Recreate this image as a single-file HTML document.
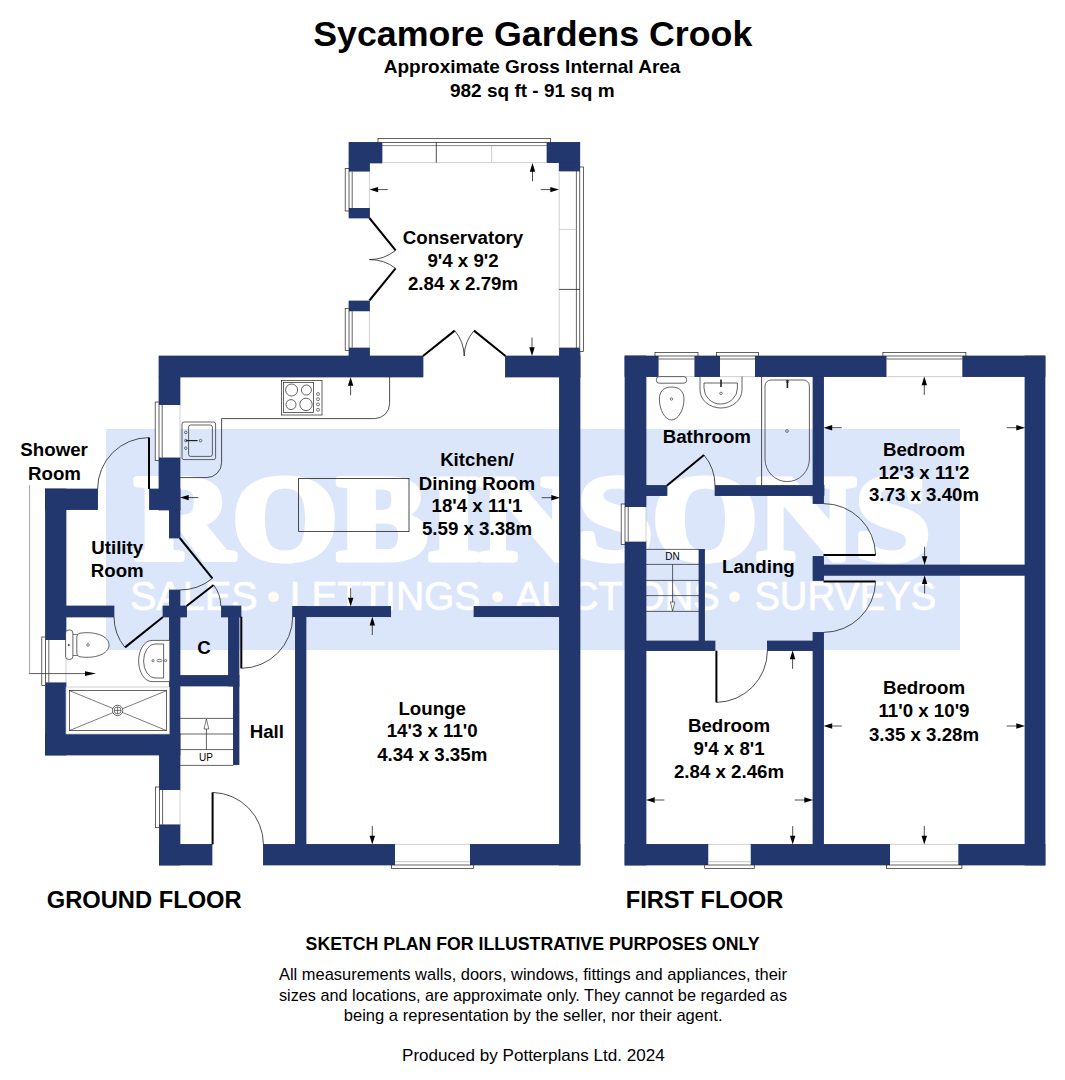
<!DOCTYPE html>
<html lang="en">
<head>
<meta charset="utf-8">
<title>Sycamore Gardens Crook - Floor Plan</title>
<style>
html,body{margin:0;padding:0;background:#fff;}
body{width:1065px;height:1080px;overflow:hidden;font-family:"Liberation Sans",sans-serif;}
svg{display:block;}
</style>
</head>
<body>
<svg width="1065" height="1080" viewBox="0 0 1065 1080" font-family="'Liberation Sans', sans-serif">
<rect width="1065" height="1080" fill="#ffffff"/>
<rect x="106.00" y="429.00" width="854.00" height="221.00" fill="#dce6fb"/>
<g stroke="#ffffff" stroke-width="7" stroke-linejoin="round">
<text x="135.00" y="559.30" font-size="121" font-weight="bold" text-anchor="start" fill="#ffffff" textLength="795.0" lengthAdjust="spacingAndGlyphs" font-family="'Liberation Serif', serif" >ROBINSONS</text>
</g>
<text x="129.90" y="610.30" font-size="41.5" font-weight="normal" text-anchor="start" fill="#ffffff" textLength="127.9" lengthAdjust="spacingAndGlyphs" stroke="#ffffff" stroke-width="0.7">SALES</text>
<text x="289.90" y="610.30" font-size="41.5" font-weight="normal" text-anchor="start" fill="#ffffff" textLength="190.4" lengthAdjust="spacingAndGlyphs" stroke="#ffffff" stroke-width="0.7">LETTINGS</text>
<text x="514.90" y="610.30" font-size="41.5" font-weight="normal" text-anchor="start" fill="#ffffff" textLength="204.9" lengthAdjust="spacingAndGlyphs" stroke="#ffffff" stroke-width="0.7">AUCTIONS</text>
<text x="754.40" y="610.30" font-size="41.5" font-weight="normal" text-anchor="start" fill="#ffffff" textLength="181.9" lengthAdjust="spacingAndGlyphs" stroke="#ffffff" stroke-width="0.7">SURVEYS</text>
<text x="273.50" y="609.50" font-size="38" font-weight="normal" text-anchor="middle" fill="#fffdf2" >•</text>
<text x="497.50" y="609.50" font-size="38" font-weight="normal" text-anchor="middle" fill="#fffdf2" >•</text>
<text x="734.50" y="609.50" font-size="38" font-weight="normal" text-anchor="middle" fill="#fffdf2" >•</text>
<g fill="#23376f" stroke="#1b2a5a" stroke-width="0.7">
<rect x="349.00" y="142.40" width="33.00" height="20.60" />
<rect x="349.00" y="163.00" width="20.40" height="8.60" />
<rect x="349.00" y="208.00" width="20.40" height="10.00" />
<rect x="349.00" y="301.00" width="20.40" height="10.30" />
<rect x="349.00" y="347.60" width="20.40" height="8.90" />
<rect x="547.00" y="142.40" width="32.80" height="20.20" />
<rect x="559.20" y="162.60" width="20.60" height="8.40" />
<rect x="159.00" y="356.00" width="264.00" height="21.00" />
<rect x="505.50" y="356.00" width="74.50" height="21.00" />
<rect x="559.50" y="348.00" width="20.50" height="517.00" />
<rect x="159.00" y="377.00" width="21.00" height="28.00" />
<rect x="159.00" y="457.50" width="21.00" height="52.50" />
<rect x="149.60" y="489.00" width="30.40" height="20.60" />
<rect x="169.40" y="509.60" width="10.60" height="28.40" />
<rect x="45.60" y="489.00" width="52.00" height="20.60" />
<rect x="45.60" y="489.00" width="20.40" height="151.00" />
<rect x="45.60" y="682.40" width="20.40" height="72.60" />
<rect x="66.00" y="606.00" width="48.00" height="11.00" />
<rect x="45.60" y="734.00" width="134.40" height="21.00" />
<rect x="169.40" y="590.00" width="10.60" height="144.00" />
<rect x="163.00" y="606.00" width="23.60" height="11.00" />
<rect x="159.40" y="734.00" width="20.60" height="56.00" />
<rect x="159.40" y="824.40" width="20.60" height="40.60" />
<rect x="159.40" y="844.40" width="52.60" height="20.60" />
<rect x="263.40" y="844.40" width="131.60" height="20.60" />
<rect x="470.00" y="844.40" width="110.00" height="20.60" />
<rect x="221.60" y="606.00" width="19.40" height="11.00" />
<rect x="228.50" y="617.00" width="10.50" height="69.00" />
<rect x="233.40" y="686.00" width="5.60" height="78.60" />
<rect x="180.00" y="675.60" width="59.00" height="10.40" />
<rect x="295.40" y="606.50" width="10.60" height="238.50" />
<rect x="292.70" y="606.50" width="98.00" height="10.20" />
<rect x="474.00" y="606.50" width="86.00" height="10.20" />
<rect x="625.00" y="356.00" width="21.00" height="151.00" />
<rect x="625.00" y="541.60" width="21.00" height="323.40" />
<rect x="625.00" y="356.00" width="33.60" height="20.60" />
<rect x="694.40" y="356.00" width="25.60" height="20.60" />
<rect x="755.00" y="356.00" width="131.50" height="20.60" />
<rect x="962.30" y="356.00" width="82.70" height="20.60" />
<rect x="1025.00" y="356.00" width="20.00" height="509.00" />
<rect x="625.00" y="844.40" width="83.30" height="20.60" />
<rect x="750.70" y="844.40" width="139.30" height="20.60" />
<rect x="958.30" y="844.40" width="86.70" height="20.60" />
<rect x="646.00" y="485.60" width="21.00" height="10.00" />
<rect x="715.00" y="485.60" width="109.00" height="10.00" />
<rect x="813.00" y="376.60" width="10.50" height="127.00" />
<rect x="813.00" y="556.50" width="10.50" height="23.90" />
<rect x="823.00" y="565.00" width="202.00" height="10.20" />
<rect x="813.00" y="632.40" width="10.50" height="212.60" />
<rect x="646.00" y="641.00" width="69.00" height="9.60" />
<rect x="767.40" y="641.00" width="45.60" height="9.60" />
<rect x="699.00" y="549.40" width="5.40" height="91.60" />
</g>
<g fill="#23376f">
<rect x="349.00" y="142.40" width="33.00" height="20.60" />
<rect x="349.00" y="163.00" width="20.40" height="8.60" />
<rect x="349.00" y="208.00" width="20.40" height="10.00" />
<rect x="349.00" y="301.00" width="20.40" height="10.30" />
<rect x="349.00" y="347.60" width="20.40" height="8.90" />
<rect x="547.00" y="142.40" width="32.80" height="20.20" />
<rect x="559.20" y="162.60" width="20.60" height="8.40" />
<rect x="159.00" y="356.00" width="264.00" height="21.00" />
<rect x="505.50" y="356.00" width="74.50" height="21.00" />
<rect x="559.50" y="348.00" width="20.50" height="517.00" />
<rect x="159.00" y="377.00" width="21.00" height="28.00" />
<rect x="159.00" y="457.50" width="21.00" height="52.50" />
<rect x="149.60" y="489.00" width="30.40" height="20.60" />
<rect x="169.40" y="509.60" width="10.60" height="28.40" />
<rect x="45.60" y="489.00" width="52.00" height="20.60" />
<rect x="45.60" y="489.00" width="20.40" height="151.00" />
<rect x="45.60" y="682.40" width="20.40" height="72.60" />
<rect x="66.00" y="606.00" width="48.00" height="11.00" />
<rect x="45.60" y="734.00" width="134.40" height="21.00" />
<rect x="169.40" y="590.00" width="10.60" height="144.00" />
<rect x="163.00" y="606.00" width="23.60" height="11.00" />
<rect x="159.40" y="734.00" width="20.60" height="56.00" />
<rect x="159.40" y="824.40" width="20.60" height="40.60" />
<rect x="159.40" y="844.40" width="52.60" height="20.60" />
<rect x="263.40" y="844.40" width="131.60" height="20.60" />
<rect x="470.00" y="844.40" width="110.00" height="20.60" />
<rect x="221.60" y="606.00" width="19.40" height="11.00" />
<rect x="228.50" y="617.00" width="10.50" height="69.00" />
<rect x="233.40" y="686.00" width="5.60" height="78.60" />
<rect x="180.00" y="675.60" width="59.00" height="10.40" />
<rect x="295.40" y="606.50" width="10.60" height="238.50" />
<rect x="292.70" y="606.50" width="98.00" height="10.20" />
<rect x="474.00" y="606.50" width="86.00" height="10.20" />
<rect x="625.00" y="356.00" width="21.00" height="151.00" />
<rect x="625.00" y="541.60" width="21.00" height="323.40" />
<rect x="625.00" y="356.00" width="33.60" height="20.60" />
<rect x="694.40" y="356.00" width="25.60" height="20.60" />
<rect x="755.00" y="356.00" width="131.50" height="20.60" />
<rect x="962.30" y="356.00" width="82.70" height="20.60" />
<rect x="1025.00" y="356.00" width="20.00" height="509.00" />
<rect x="625.00" y="844.40" width="83.30" height="20.60" />
<rect x="750.70" y="844.40" width="139.30" height="20.60" />
<rect x="958.30" y="844.40" width="86.70" height="20.60" />
<rect x="646.00" y="485.60" width="21.00" height="10.00" />
<rect x="715.00" y="485.60" width="109.00" height="10.00" />
<rect x="813.00" y="376.60" width="10.50" height="127.00" />
<rect x="813.00" y="556.50" width="10.50" height="23.90" />
<rect x="823.00" y="565.00" width="202.00" height="10.20" />
<rect x="813.00" y="632.40" width="10.50" height="212.60" />
<rect x="646.00" y="641.00" width="69.00" height="9.60" />
<rect x="767.40" y="641.00" width="45.60" height="9.60" />
<rect x="699.00" y="549.40" width="5.40" height="91.60" />
</g>
<rect x="159.00" y="405.00" width="21.00" height="52.50" fill="#fff"/>
<rect x="155.20" y="402.00" width="3.80" height="58.50" fill="#fff" stroke="#222" stroke-width="0.7"/>
<line x1="162.20" y1="405.00" x2="162.20" y2="457.50" stroke="#222" stroke-width="0.7" />
<line x1="180.00" y1="405.00" x2="180.00" y2="457.50" stroke="#bcbcbc" stroke-width="0.7" />
<rect x="45.60" y="640.00" width="20.40" height="42.40" fill="#fff"/>
<rect x="41.80" y="637.00" width="3.80" height="48.40" fill="#fff" stroke="#222" stroke-width="0.7"/>
<line x1="48.80" y1="640.00" x2="48.80" y2="682.40" stroke="#222" stroke-width="0.7" />
<line x1="66.00" y1="640.00" x2="66.00" y2="682.40" stroke="#bcbcbc" stroke-width="0.7" />
<rect x="159.40" y="790.00" width="20.60" height="34.40" fill="#fff"/>
<rect x="155.60" y="787.00" width="3.80" height="40.40" fill="#fff" stroke="#222" stroke-width="0.7"/>
<line x1="162.60" y1="790.00" x2="162.60" y2="824.40" stroke="#222" stroke-width="0.7" />
<line x1="180.00" y1="790.00" x2="180.00" y2="824.40" stroke="#bcbcbc" stroke-width="0.7" />
<rect x="349.00" y="171.60" width="20.40" height="36.40" fill="#fff"/>
<rect x="345.20" y="168.60" width="3.80" height="42.40" fill="#fff" stroke="#222" stroke-width="0.7"/>
<line x1="352.20" y1="171.60" x2="352.20" y2="208.00" stroke="#222" stroke-width="0.7" />
<line x1="369.40" y1="171.60" x2="369.40" y2="208.00" stroke="#bcbcbc" stroke-width="0.7" />
<rect x="349.00" y="311.30" width="20.40" height="36.30" fill="#fff"/>
<rect x="345.20" y="308.30" width="3.80" height="42.30" fill="#fff" stroke="#222" stroke-width="0.7"/>
<line x1="352.20" y1="311.30" x2="352.20" y2="347.60" stroke="#222" stroke-width="0.7" />
<line x1="369.40" y1="311.30" x2="369.40" y2="347.60" stroke="#bcbcbc" stroke-width="0.7" />
<rect x="395.00" y="844.40" width="75.00" height="20.60" fill="#fff"/>
<rect x="391.40" y="865.00" width="82.20" height="3.40" fill="#fff" stroke="#222" stroke-width="0.7"/>
<line x1="395.00" y1="861.70" x2="470.00" y2="861.70" stroke="#b5b5b5" stroke-width="0.8" />
<line x1="395.00" y1="844.40" x2="470.00" y2="844.40" stroke="#bcbcbc" stroke-width="0.7" />
<rect x="625.00" y="507.00" width="21.00" height="34.60" fill="#fff"/>
<rect x="621.20" y="504.00" width="3.80" height="40.60" fill="#fff" stroke="#222" stroke-width="0.7"/>
<line x1="628.20" y1="507.00" x2="628.20" y2="541.60" stroke="#222" stroke-width="0.7" />
<line x1="646.00" y1="507.00" x2="646.00" y2="541.60" stroke="#bcbcbc" stroke-width="0.7" />
<rect x="658.60" y="356.00" width="35.80" height="20.60" fill="#fff"/>
<rect x="655.00" y="352.40" width="43.00" height="3.60" fill="#fff" stroke="#222" stroke-width="0.7"/>
<line x1="658.60" y1="359.00" x2="694.40" y2="359.00" stroke="#222" stroke-width="0.7" />
<line x1="658.60" y1="376.60" x2="694.40" y2="376.60" stroke="#bcbcbc" stroke-width="0.7" />
<rect x="720.00" y="356.00" width="35.00" height="20.60" fill="#fff"/>
<rect x="716.40" y="352.40" width="42.20" height="3.60" fill="#fff" stroke="#222" stroke-width="0.7"/>
<line x1="720.00" y1="359.00" x2="755.00" y2="359.00" stroke="#222" stroke-width="0.7" />
<line x1="720.00" y1="376.60" x2="755.00" y2="376.60" stroke="#bcbcbc" stroke-width="0.7" />
<rect x="886.50" y="356.00" width="75.80" height="20.60" fill="#fff"/>
<rect x="882.90" y="352.40" width="83.00" height="3.60" fill="#fff" stroke="#222" stroke-width="0.7"/>
<line x1="886.50" y1="359.00" x2="962.30" y2="359.00" stroke="#222" stroke-width="0.7" />
<line x1="886.50" y1="376.60" x2="962.30" y2="376.60" stroke="#bcbcbc" stroke-width="0.7" />
<rect x="708.30" y="844.40" width="42.40" height="20.60" fill="#fff"/>
<rect x="704.70" y="865.00" width="49.60" height="3.40" fill="#fff" stroke="#222" stroke-width="0.7"/>
<line x1="708.30" y1="861.70" x2="750.70" y2="861.70" stroke="#b5b5b5" stroke-width="0.8" />
<line x1="708.30" y1="844.40" x2="750.70" y2="844.40" stroke="#bcbcbc" stroke-width="0.7" />
<rect x="890.00" y="844.40" width="68.30" height="20.60" fill="#fff"/>
<rect x="886.40" y="865.00" width="75.50" height="3.40" fill="#fff" stroke="#222" stroke-width="0.7"/>
<line x1="890.00" y1="861.70" x2="958.30" y2="861.70" stroke="#b5b5b5" stroke-width="0.8" />
<line x1="890.00" y1="844.40" x2="958.30" y2="844.40" stroke="#bcbcbc" stroke-width="0.7" />
<rect x="378.00" y="138.40" width="172.40" height="4.00" fill="#fff" stroke="#222" stroke-width="0.7"/>
<line x1="382.00" y1="145.60" x2="547.00" y2="145.60" stroke="#555" stroke-width="0.7" />
<line x1="382.00" y1="162.60" x2="547.00" y2="162.60" stroke="#bcbcbc" stroke-width="0.7" />
<line x1="436.30" y1="142.40" x2="436.30" y2="162.60" stroke="#222" stroke-width="0.8" />
<line x1="491.60" y1="145.60" x2="491.60" y2="162.60" stroke="#bcbcbc" stroke-width="0.7" />
<rect x="579.80" y="167.00" width="3.80" height="184.50" fill="#fff" stroke="#222" stroke-width="0.7"/>
<line x1="559.20" y1="171.00" x2="559.20" y2="348.00" stroke="#bcbcbc" stroke-width="0.7" />
<line x1="576.40" y1="171.00" x2="576.40" y2="348.00" stroke="#222" stroke-width="0.7" />
<line x1="559.20" y1="229.40" x2="576.40" y2="229.40" stroke="#bcbcbc" stroke-width="0.7" />
<line x1="559.20" y1="289.40" x2="579.80" y2="289.40" stroke="#222" stroke-width="0.8" />
<path d="M180,477.6 H206.6 A15,15 0 0 0 221.6,462.6 V418.6 H374.6 A15,15 0 0 0 389.6,403.6 V377" stroke="#222" stroke-width="0.8" fill="none" />
<rect x="182" y="422" width="33.6" height="37.6" rx="2" fill="none" stroke="#222" stroke-width="0.7"/>
<path d="M190.6,425 H210.4 A2,2 0 0 1 212.4,427 V454.4 A2,2 0 0 1 210.4,456.4 H190.6 A2,2 0 0 1 188.6,454.4 V427 A2,2 0 0 1 190.6,425 Z" stroke="#222" stroke-width="0.7" fill="none" />
<circle cx="185.80" cy="432.40" r="1.30" stroke="#222" stroke-width="0.6" fill="none"/>
<circle cx="185.80" cy="440.60" r="1.30" stroke="#222" stroke-width="0.6" fill="none"/>
<circle cx="185.80" cy="448.20" r="1.30" stroke="#222" stroke-width="0.6" fill="none"/>
<line x1="185.80" y1="440.60" x2="197.60" y2="440.60" stroke="#222" stroke-width="1.2" />
<circle cx="200.60" cy="440.60" r="1.30" stroke="#222" stroke-width="0.6" fill="none"/>
<rect x="281.40" y="380.40" width="40.60" height="34.60" fill="#fff" stroke="#222" stroke-width="0.7"/>
<rect x="283.60" y="382.40" width="30.00" height="30.20" fill="none" stroke="#222" stroke-width="0.7"/>
<circle cx="291.60" cy="390.00" r="6.00" stroke="#222" stroke-width="0.7" fill="none"/>
<circle cx="306.40" cy="390.00" r="5.00" stroke="#222" stroke-width="0.7" fill="none"/>
<circle cx="291.00" cy="404.60" r="5.00" stroke="#222" stroke-width="0.7" fill="none"/>
<circle cx="306.00" cy="404.40" r="6.20" stroke="#222" stroke-width="0.7" fill="none"/>
<circle cx="318.00" cy="394.00" r="1.50" stroke="#222" stroke-width="0.6" fill="none"/>
<circle cx="318.00" cy="399.20" r="1.50" stroke="#222" stroke-width="0.6" fill="none"/>
<circle cx="318.00" cy="404.40" r="1.50" stroke="#222" stroke-width="0.6" fill="none"/>
<circle cx="318.00" cy="409.80" r="1.50" stroke="#222" stroke-width="0.6" fill="none"/>
<rect x="298.60" y="478.40" width="110.40" height="53.00" fill="none" stroke="#222" stroke-width="0.8"/>
<rect x="65.6" y="630" width="7.3" height="29.4" rx="3" fill="#fff" stroke="#222" stroke-width="0.7"/>
<circle cx="68.80" cy="645.00" r="0.70" stroke="#222" stroke-width="0.6" fill="#333"/>
<path d="M72.9,634.5 H78 M72.9,655.5 H78" stroke="#222" stroke-width="0.6" fill="none" />
<path d="M80,633.2 C95,631 109,636 109,645 C109,654 95,659 80,656.8 C77.4,656.3 76.8,654.5 76.8,652 V638 C76.8,635.5 77.4,633.7 80,633.2 Z" stroke="#222" stroke-width="0.7" fill="#fff" />
<circle cx="88.00" cy="645.00" r="1.30" stroke="#222" stroke-width="0.6" fill="none"/>
<path d="M169.4,640.4 H152 A13.4,20.6 0 0 0 152,681.6 H169.4" stroke="#222" stroke-width="0.7" fill="#fff" />
<path d="M163.6,644 H155 A11.4,17 0 0 0 155,678 H163.6 Z" stroke="#222" stroke-width="0.7" fill="none" />
<circle cx="153.00" cy="660.60" r="1.10" stroke="#222" stroke-width="0.6" fill="none"/>
<circle cx="165.60" cy="660.60" r="1.10" stroke="#222" stroke-width="0.6" fill="none"/>
<ellipse cx="159.50" cy="660.60" rx="2.50" ry="1.20" stroke="#222" stroke-width="0.6" fill="none"/>
<rect x="66.00" y="687.00" width="103.40" height="47.00" fill="#fff" stroke="#bcbcbc" stroke-width="0.7"/>
<rect x="69.40" y="690.60" width="97.20" height="40.00" fill="none" stroke="#222" stroke-width="0.7"/>
<line x1="69.40" y1="690.60" x2="166.60" y2="730.60" stroke="#222" stroke-width="0.6" />
<line x1="69.40" y1="730.60" x2="166.60" y2="690.60" stroke="#222" stroke-width="0.6" />
<circle cx="117.60" cy="710.40" r="5.20" stroke="#222" stroke-width="0.7" fill="#fff"/>
<circle cx="117.60" cy="710.40" r="3.50" stroke="#222" stroke-width="0.6" fill="none"/>
<line x1="114.10" y1="710.40" x2="121.10" y2="710.40" stroke="#222" stroke-width="0.6" />
<line x1="117.60" y1="706.90" x2="117.60" y2="713.90" stroke="#222" stroke-width="0.6" />
<line x1="180.00" y1="718.40" x2="233.40" y2="718.40" stroke="#222" stroke-width="0.7" />
<line x1="180.00" y1="734.00" x2="233.40" y2="734.00" stroke="#222" stroke-width="0.7" />
<line x1="180.00" y1="749.60" x2="233.40" y2="749.60" stroke="#222" stroke-width="0.7" />
<line x1="180.00" y1="765.40" x2="233.40" y2="765.40" stroke="#222" stroke-width="0.7" />
<line x1="206.40" y1="749.60" x2="206.40" y2="728.00" stroke="#222" stroke-width="0.7" />
<path d="M206.4,719 L208.8,729 H204 Z" stroke="#222" stroke-width="0.6" fill="#fff" />
<text x="206.00" y="760.80" font-size="10" font-weight="normal" text-anchor="middle" fill="#000" >UP</text>
<line x1="29.60" y1="485.00" x2="29.60" y2="673.60" stroke="#8c8c8c" stroke-width="0.8" />
<line x1="29.20" y1="673.60" x2="86.00" y2="673.60" stroke="#333" stroke-width="0.8" />
<polygon points="96,673.6 85,671.2 85,676" fill="#000"/>
<line x1="761.60" y1="376.60" x2="761.60" y2="485.60" stroke="#222" stroke-width="0.8" />
<path d="M771,380 H803.4 A6,6 0 0 1 809.4,386 V459 A22.2,22.6 0 0 1 765,459 V386 A6,6 0 0 1 771,380 Z" stroke="#222" stroke-width="0.7" fill="none" />
<circle cx="787.00" cy="431.00" r="1.40" stroke="#222" stroke-width="0.6" fill="none"/>
<path d="M787.4,380 V388" stroke="#222" stroke-width="1.6" fill="none" />
<circle cx="787.40" cy="381.50" r="1.30" stroke="#222" stroke-width="0.6" fill="none"/>
<rect x="656.4" y="376.6" width="30.2" height="6.6" rx="2.8" fill="#fff" stroke="#222" stroke-width="0.7"/>
<path d="M671.6,387 C680,387 684,392 684,399 C684,410 678,420 671.6,420 C665,420 659.4,410 659.4,399 C659.4,392 663,387 671.6,387 Z" stroke="#222" stroke-width="0.7" fill="#fff" />
<circle cx="671.40" cy="399.00" r="1.20" stroke="#222" stroke-width="0.6" fill="none"/>
<path d="M700,376.6 V390 A21,18 0 0 0 742,390 V376.6" stroke="#222" stroke-width="0.7" fill="none" />
<path d="M704,383 H737.4 V388 A16.7,16 0 0 1 704,388 Z" stroke="#222" stroke-width="0.7" fill="none" />
<path d="M721,379.5 V387" stroke="#222" stroke-width="1.6" fill="none" />
<circle cx="721.00" cy="393.40" r="1.30" stroke="#222" stroke-width="0.6" fill="none"/>
<line x1="646.00" y1="549.40" x2="699.00" y2="549.40" stroke="#222" stroke-width="0.7" />
<line x1="646.00" y1="564.40" x2="699.00" y2="564.40" stroke="#222" stroke-width="0.7" />
<line x1="646.00" y1="580.40" x2="699.00" y2="580.40" stroke="#222" stroke-width="0.7" />
<line x1="646.00" y1="595.60" x2="699.00" y2="595.60" stroke="#222" stroke-width="0.7" />
<line x1="646.00" y1="611.40" x2="699.00" y2="611.40" stroke="#222" stroke-width="0.7" />
<line x1="672.60" y1="564.40" x2="672.60" y2="602.00" stroke="#222" stroke-width="0.7" />
<path d="M672.6,611 L670.4,602 H674.8 Z" stroke="#222" stroke-width="0.6" fill="#fff" />
<text x="672.60" y="560.40" font-size="10" font-weight="normal" text-anchor="middle" fill="#000" >DN</text>
<line x1="149.00" y1="489.00" x2="149.00" y2="437.60" stroke="#000" stroke-width="2.0" />
<path d="M149.00,437.60 A51.40,51.40 0 0 0 97.60,489.00" stroke="#222" stroke-width="0.8" fill="none" />
<line x1="179.80" y1="538.00" x2="212.40" y2="578.40" stroke="#000" stroke-width="2.0" />
<path d="M212.40,578.40 A51.91,51.91 0 0 1 179.80,590.00" stroke="#222" stroke-width="0.8" fill="none" />
<line x1="186.60" y1="606.00" x2="213.60" y2="585.00" stroke="#000" stroke-width="2.0" />
<path d="M213.60,585.00 A34.21,34.21 0 0 1 220.80,606.00" stroke="#222" stroke-width="0.8" fill="none" />
<line x1="163.00" y1="617.00" x2="125.00" y2="647.40" stroke="#000" stroke-width="2.0" />
<path d="M125.00,647.40 A48.66,48.66 0 0 1 114.00,617.00" stroke="#222" stroke-width="0.8" fill="none" />
<line x1="241.30" y1="616.70" x2="241.30" y2="668.30" stroke="#000" stroke-width="2.0" />
<path d="M241.30,668.30 A51.60,51.60 0 0 0 292.70,616.70" stroke="#222" stroke-width="0.8" fill="none" />
<line x1="212.60" y1="844.40" x2="212.60" y2="792.40" stroke="#000" stroke-width="2.0" />
<path d="M212.60,792.40 A52.00,52.00 0 0 1 263.40,844.40" stroke="#222" stroke-width="0.8" fill="none" />
<line x1="369.40" y1="218.00" x2="395.60" y2="250.40" stroke="#000" stroke-width="2.0" />
<path d="M395.60,250.40 A41.67,41.67 0 0 1 369.40,259.60" stroke="#222" stroke-width="0.8" fill="none" />
<line x1="369.40" y1="300.50" x2="395.60" y2="268.40" stroke="#000" stroke-width="2.0" />
<path d="M395.60,268.40 A41.43,41.43 0 0 0 369.40,259.60" stroke="#222" stroke-width="0.8" fill="none" />
<line x1="423.00" y1="356.00" x2="454.70" y2="330.60" stroke="#000" stroke-width="2.0" />
<path d="M454.70,330.60 A40.62,40.62 0 0 1 464.20,356.00" stroke="#222" stroke-width="0.8" fill="none" />
<line x1="505.50" y1="356.00" x2="474.00" y2="330.60" stroke="#000" stroke-width="2.0" />
<path d="M474.00,330.60 A40.46,40.46 0 0 0 464.20,356.00" stroke="#222" stroke-width="0.8" fill="none" />
<line x1="667.00" y1="485.60" x2="704.00" y2="455.00" stroke="#000" stroke-width="2.0" />
<path d="M704.00,455.00 A48.01,48.01 0 0 1 715.00,485.60" stroke="#222" stroke-width="0.8" fill="none" />
<line x1="716.40" y1="650.60" x2="716.40" y2="702.40" stroke="#000" stroke-width="2.0" />
<path d="M716.40,702.40 A51.80,51.80 0 0 0 767.40,650.60" stroke="#222" stroke-width="0.8" fill="none" />
<line x1="823.50" y1="555.00" x2="875.60" y2="555.00" stroke="#000" stroke-width="2.0" />
<path d="M875.60,555.00 A52.10,52.10 0 0 0 823.50,503.60" stroke="#222" stroke-width="0.8" fill="none" />
<line x1="823.50" y1="581.40" x2="875.60" y2="581.40" stroke="#000" stroke-width="2.0" />
<path d="M875.60,581.40 A52.10,52.10 0 0 1 823.50,632.40" stroke="#222" stroke-width="0.8" fill="none" />
<line x1="376.36" y1="189.60" x2="387.70" y2="189.60" stroke="#222" stroke-width="0.8" />
<polygon points="369.40,189.60 378.10,186.90 378.10,192.30" fill="#000"/>
<line x1="532.50" y1="169.96" x2="532.50" y2="181.30" stroke="#222" stroke-width="0.8" />
<polygon points="532.50,163.00 535.20,171.70 529.80,171.70" fill="#000"/>
<line x1="552.04" y1="189.60" x2="540.70" y2="189.60" stroke="#222" stroke-width="0.8" />
<polygon points="559.00,189.60 550.30,192.30 550.30,186.90" fill="#000"/>
<line x1="532.00" y1="349.04" x2="532.00" y2="337.70" stroke="#222" stroke-width="0.8" />
<polygon points="532.00,356.00 529.30,347.30 534.70,347.30" fill="#000"/>
<line x1="350.60" y1="383.96" x2="350.60" y2="395.30" stroke="#222" stroke-width="0.8" />
<polygon points="350.60,377.00 353.30,385.70 347.90,385.70" fill="#000"/>
<line x1="186.96" y1="497.60" x2="198.30" y2="497.60" stroke="#222" stroke-width="0.8" />
<polygon points="180.00,497.60 188.70,494.90 188.70,500.30" fill="#000"/>
<line x1="553.04" y1="497.70" x2="541.70" y2="497.70" stroke="#222" stroke-width="0.8" />
<polygon points="560.00,497.70 551.30,500.40 551.30,495.00" fill="#000"/>
<line x1="350.70" y1="599.54" x2="350.70" y2="588.20" stroke="#222" stroke-width="0.8" />
<polygon points="350.70,606.50 348.00,597.80 353.40,597.80" fill="#000"/>
<line x1="372.30" y1="623.66" x2="372.30" y2="635.00" stroke="#222" stroke-width="0.8" />
<polygon points="372.30,616.70 375.00,625.40 369.60,625.40" fill="#000"/>
<line x1="372.30" y1="837.44" x2="372.30" y2="826.10" stroke="#222" stroke-width="0.8" />
<polygon points="372.30,844.40 369.60,835.70 375.00,835.70" fill="#000"/>
<line x1="924.30" y1="383.56" x2="924.30" y2="394.90" stroke="#222" stroke-width="0.8" />
<polygon points="924.30,376.60 927.00,385.30 921.60,385.30" fill="#000"/>
<line x1="830.46" y1="427.70" x2="841.80" y2="427.70" stroke="#222" stroke-width="0.8" />
<polygon points="823.50,427.70 832.20,425.00 832.20,430.40" fill="#000"/>
<line x1="1018.04" y1="427.70" x2="1006.70" y2="427.70" stroke="#222" stroke-width="0.8" />
<polygon points="1025.00,427.70 1016.30,430.40 1016.30,425.00" fill="#000"/>
<line x1="924.60" y1="558.04" x2="924.60" y2="546.70" stroke="#222" stroke-width="0.8" />
<polygon points="924.60,565.00 921.90,556.30 927.30,556.30" fill="#000"/>
<line x1="924.60" y1="582.16" x2="924.60" y2="593.50" stroke="#222" stroke-width="0.8" />
<polygon points="924.60,575.20 927.30,583.90 921.90,583.90" fill="#000"/>
<line x1="830.46" y1="726.00" x2="841.80" y2="726.00" stroke="#222" stroke-width="0.8" />
<polygon points="823.50,726.00 832.20,723.30 832.20,728.70" fill="#000"/>
<line x1="1018.04" y1="726.00" x2="1006.70" y2="726.00" stroke="#222" stroke-width="0.8" />
<polygon points="1025.00,726.00 1016.30,728.70 1016.30,723.30" fill="#000"/>
<line x1="924.30" y1="837.44" x2="924.30" y2="826.10" stroke="#222" stroke-width="0.8" />
<polygon points="924.30,844.40 921.60,835.70 927.00,835.70" fill="#000"/>
<line x1="792.60" y1="657.56" x2="792.60" y2="668.90" stroke="#222" stroke-width="0.8" />
<polygon points="792.60,650.60 795.30,659.30 789.90,659.30" fill="#000"/>
<line x1="652.96" y1="800.00" x2="664.30" y2="800.00" stroke="#222" stroke-width="0.8" />
<polygon points="646.00,800.00 654.70,797.30 654.70,802.70" fill="#000"/>
<line x1="806.04" y1="800.00" x2="794.70" y2="800.00" stroke="#222" stroke-width="0.8" />
<polygon points="813.00,800.00 804.30,802.70 804.30,797.30" fill="#000"/>
<line x1="792.70" y1="837.44" x2="792.70" y2="826.10" stroke="#222" stroke-width="0.8" />
<polygon points="792.70,844.40 790.00,835.70 795.40,835.70" fill="#000"/>
<text x="463.00" y="243.90" font-size="18.7" font-weight="bold" text-anchor="middle" fill="#000" >Conservatory</text>
<text x="463.00" y="267.20" font-size="18.7" font-weight="bold" text-anchor="middle" fill="#000" >9'4 x 9'2</text>
<text x="463.00" y="289.50" font-size="18.7" font-weight="bold" text-anchor="middle" fill="#000" >2.84 x 2.79m</text>
<text x="477.00" y="466.20" font-size="18.7" font-weight="bold" text-anchor="middle" fill="#000" >Kitchen/</text>
<text x="477.00" y="489.80" font-size="18.7" font-weight="bold" text-anchor="middle" fill="#000" >Dining Room</text>
<text x="477.00" y="512.20" font-size="18.7" font-weight="bold" text-anchor="middle" fill="#000" >18'4 x 11'1</text>
<text x="477.00" y="534.80" font-size="18.7" font-weight="bold" text-anchor="middle" fill="#000" >5.59 x 3.38m</text>
<text x="432.20" y="714.50" font-size="18.7" font-weight="bold" text-anchor="middle" fill="#000" >Lounge</text>
<text x="432.20" y="737.20" font-size="18.7" font-weight="bold" text-anchor="middle" fill="#000" >14'3 x 11'0</text>
<text x="432.20" y="760.50" font-size="18.7" font-weight="bold" text-anchor="middle" fill="#000" >4.34 x 3.35m</text>
<text x="266.80" y="737.90" font-size="18.7" font-weight="bold" text-anchor="middle" fill="#000" >Hall</text>
<text x="204.00" y="653.50" font-size="18.7" font-weight="bold" text-anchor="middle" fill="#000" >C</text>
<text x="117.20" y="554.10" font-size="18.7" font-weight="bold" text-anchor="middle" fill="#000" >Utility</text>
<text x="117.20" y="576.50" font-size="18.7" font-weight="bold" text-anchor="middle" fill="#000" >Room</text>
<text x="54.10" y="456.40" font-size="18.7" font-weight="bold" text-anchor="middle" fill="#000" >Shower</text>
<text x="54.50" y="480.10" font-size="18.7" font-weight="bold" text-anchor="middle" fill="#000" >Room</text>
<text x="706.80" y="442.90" font-size="18.7" font-weight="bold" text-anchor="middle" fill="#000" >Bathroom</text>
<text x="758.40" y="572.90" font-size="18.7" font-weight="bold" text-anchor="middle" fill="#000" >Landing</text>
<text x="924.00" y="455.50" font-size="18.7" font-weight="bold" text-anchor="middle" fill="#000" >Bedroom</text>
<text x="924.00" y="478.80" font-size="18.7" font-weight="bold" text-anchor="middle" fill="#000" >12'3 x 11'2</text>
<text x="924.00" y="500.50" font-size="18.7" font-weight="bold" text-anchor="middle" fill="#000" >3.73 x 3.40m</text>
<text x="924.00" y="693.80" font-size="18.7" font-weight="bold" text-anchor="middle" fill="#000" >Bedroom</text>
<text x="924.00" y="717.20" font-size="18.7" font-weight="bold" text-anchor="middle" fill="#000" >11'0 x 10'9</text>
<text x="924.00" y="740.50" font-size="18.7" font-weight="bold" text-anchor="middle" fill="#000" >3.35 x 3.28m</text>
<text x="729.00" y="732.20" font-size="18.7" font-weight="bold" text-anchor="middle" fill="#000" >Bedroom</text>
<text x="729.00" y="754.80" font-size="18.7" font-weight="bold" text-anchor="middle" fill="#000" >9'4 x 8'1</text>
<text x="729.00" y="778.20" font-size="18.7" font-weight="bold" text-anchor="middle" fill="#000" >2.84 x 2.46m</text>
<text x="46.70" y="907.70" font-size="23.7" font-weight="bold" text-anchor="start" fill="#000" textLength="195.0" lengthAdjust="spacingAndGlyphs" >GROUND FLOOR</text>
<text x="625.70" y="907.70" font-size="23.7" font-weight="bold" text-anchor="start" fill="#000" textLength="157.6" lengthAdjust="spacingAndGlyphs" >FIRST FLOOR</text>
<text x="313.20" y="45.50" font-size="35.7" font-weight="bold" text-anchor="start" fill="#000" textLength="439.1" lengthAdjust="spacingAndGlyphs" >Sycamore Gardens Crook</text>
<text x="383.80" y="72.80" font-size="19" font-weight="bold" text-anchor="start" fill="#000" textLength="296.6" lengthAdjust="spacingAndGlyphs" >Approximate Gross Internal Area</text>
<text x="450.00" y="97.00" font-size="19" font-weight="bold" text-anchor="start" fill="#000" textLength="164.6" lengthAdjust="spacingAndGlyphs" >982 sq ft - 91 sq m</text>
<text x="305.60" y="950.00" font-size="17.7" font-weight="bold" text-anchor="start" fill="#000" textLength="454.0" lengthAdjust="spacingAndGlyphs" >SKETCH PLAN FOR ILLUSTRATIVE PURPOSES ONLY</text>
<text x="279.00" y="980.30" font-size="16.4" font-weight="normal" text-anchor="start" fill="#000" textLength="508.0" lengthAdjust="spacingAndGlyphs" >All measurements walls, doors, windows, fittings and appliances, their</text>
<text x="279.00" y="1000.50" font-size="16.4" font-weight="normal" text-anchor="start" fill="#000" textLength="508.0" lengthAdjust="spacingAndGlyphs" >sizes and locations, are approximate only. They cannot be regarded as</text>
<text x="343.70" y="1021.00" font-size="16.4" font-weight="normal" text-anchor="start" fill="#000" textLength="378.8" lengthAdjust="spacingAndGlyphs" >being a representation by the seller, nor their agent.</text>
<text x="402.00" y="1061.00" font-size="16.4" font-weight="normal" text-anchor="start" fill="#000" textLength="262.7" lengthAdjust="spacingAndGlyphs" >Produced by Potterplans Ltd. 2024</text>
</svg>
</body>
</html>
